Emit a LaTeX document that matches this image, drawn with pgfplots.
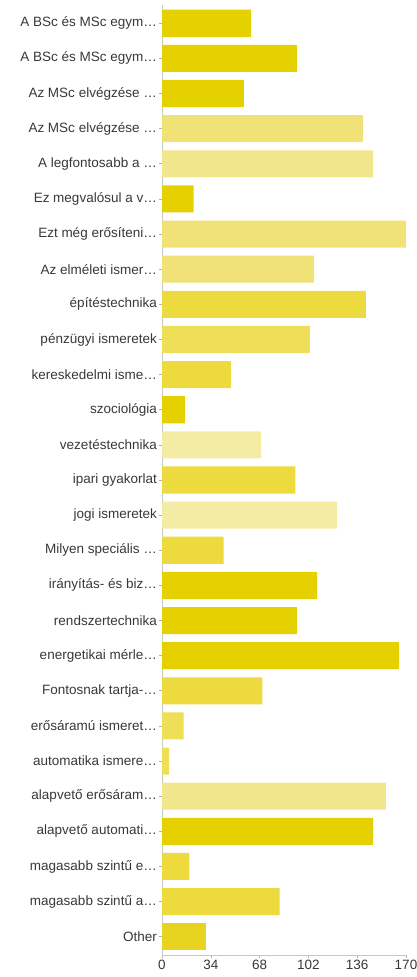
\documentclass[border=0pt]{standalone}
\usepackage{pgfplots}
\pgfplotsset{compat=1.18}
\usepackage{fontspec}
\setmainfont{Liberation Sans}
\definecolor{cDark}{HTML}{E5D000}
\definecolor{cDarkish}{HTML}{E8D420}
\definecolor{cMed}{HTML}{ECDA3E}
\definecolor{cMedL}{HTML}{EEDE58}
\definecolor{cLight}{HTML}{F0E276}
\definecolor{cLighter}{HTML}{F2E68C}
\definecolor{cVLight}{HTML}{F4EBA4}
\begin{document}
\begin{tikzpicture}
\begin{axis}[
  at={(162bp,22bp)}, anchor=south west,
  scale only axis, width=244bp, height=950bp,
  xbar, bar width=0.77, bar shift=0pt,
  xmin=0, xmax=170, ymin=0.48, ymax=27.52,
  xtick={0,34,68,102,136,170},
  ytick={1,...,27},
  yticklabels={{Other},{magasabb szintű a…},{magasabb szintű e…},{alapvető automati…},{alapvető erősáram…},{automatika ismere…},{erősáramú ismeret…},{Fontosnak tartja-…},{energetikai mérle…},{rendszertechnika},{irányítás- és biz…},{Milyen speciális …},{jogi ismeretek},{ipari gyakorlat},{vezetéstechnika},{szociológia},{kereskedelmi isme…},{pénzügyi ismeretek},{építéstechnika},{Az elméleti ismer…},{Ezt még erősíteni…},{Ez megvalósul a v…},{A legfontosabb a …},{Az MSc elvégzése …},{Az MSc elvégzése …},{A BSc és MSc egym…},{A BSc és MSc egym…}},
  axis x line*=bottom, axis y line*=left,
  axis line style={draw=black!22, line width=0.8pt},
  tick style={draw=black!30, line width=0.6pt},
  major tick length=3.5bp,
  tick align=outside,
  /pgf/number format/assume math mode=true,
  ticklabel style={font=\fontsize{13.5bp}{16bp}\selectfont, text=black!78},
  yticklabel style={inner sep=1.5bp},
  xticklabel style={inner sep=1.5bp},
  every axis plot/.append style={draw=none},
]
\addplot[fill=cDark] coordinates {(62,27) (94,26) (57,25) (22,22) (16,16) (108,11) (94,10) (165,9) (147,4)};
\addplot[fill=cDarkish] coordinates {(31,1)};
\addplot[fill=cMed] coordinates {(142,19) (48,17) (93,14) (43,12) (70,8) (19,3) (82,2)};
\addplot[fill=cMedL] coordinates {(103,18) (15,7) (5,6)};
\addplot[fill=cLight] coordinates {(140,24) (170,21) (106,20)};
\addplot[fill=cLighter] coordinates {(147,23) (156,5)};
\addplot[fill=cVLight] coordinates {(69,15) (122,13)};
\end{axis}
\pgfresetboundingbox
\path (0,0) rectangle (417bp,977bp);
\end{tikzpicture}
\end{document}
